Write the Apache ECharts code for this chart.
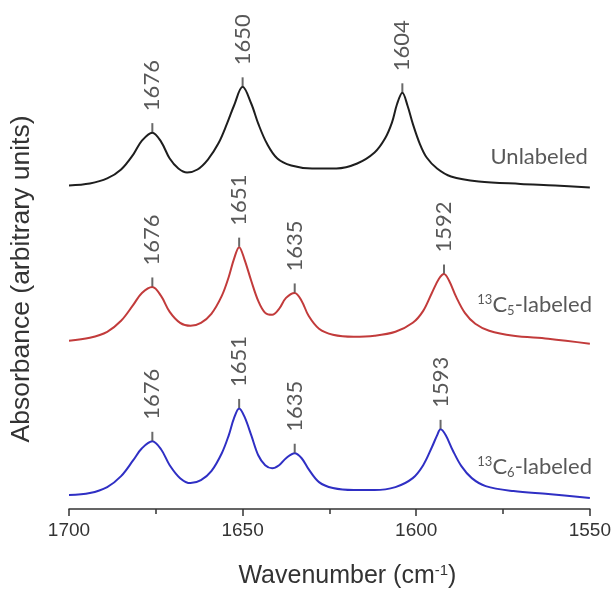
<!DOCTYPE html>
<html><head><meta charset="utf-8">
<script src="https://cdn.jsdelivr.net/npm/echarts@6/dist/echarts.min.js"></script>
<style>html,body{margin:0;padding:0;background:#fff}#c{width:614px;height:594px}</style>
</head><body><div id="c"></div>
<script>
// Absorbance (arbitrary units) relative to each spectrum's own baseline, [wavenumber, value]
const unlabeled = [[1700,0],[1694,0.02],[1689,0.07],[1685,0.16],[1681.5,0.31],[1679,0.45],[1676,0.53],[1673.5,0.44],[1671,0.27],[1668.5,0.17],[1666,0.13],[1663,0.16],[1660,0.26],[1657,0.42],[1654.5,0.62],[1652.5,0.80],[1650,0.99],[1647.5,0.82],[1645.5,0.62],[1643,0.42],[1640,0.27],[1636,0.20],[1630,0.17],[1623,0.17],[1617,0.22],[1612,0.33],[1609,0.47],[1607,0.63],[1605.5,0.82],[1604,0.93],[1602.5,0.80],[1601,0.62],[1599,0.42],[1597,0.28],[1594,0.17],[1590,0.09],[1582,0.04],[1570,0.015],[1560,0],[1550,-0.02]];
const c5labeled = [[1700,0],[1694,0.03],[1689,0.09],[1685,0.20],[1681.5,0.36],[1679,0.48],[1676,0.54],[1673.5,0.45],[1671,0.29],[1668,0.18],[1665,0.15],[1662,0.18],[1659,0.27],[1656,0.45],[1654,0.64],[1652.5,0.82],[1651,0.94],[1649.5,0.82],[1647.5,0.60],[1645.5,0.40],[1643.5,0.28],[1641.5,0.26],[1639.5,0.32],[1637.5,0.43],[1635,0.48],[1633,0.40],[1631,0.25],[1628,0.12],[1624,0.06],[1618,0.04],[1612,0.05],[1606,0.09],[1601,0.18],[1598,0.30],[1595.5,0.48],[1593.5,0.62],[1592,0.67],[1590.5,0.60],[1588.5,0.44],[1586,0.28],[1583,0.17],[1579,0.10],[1572,0.05],[1562,0.02],[1550,-0.03]];
const c6labeled = [[1700,0],[1694,0.02],[1689,0.08],[1685,0.19],[1681.5,0.35],[1679,0.47],[1676,0.54],[1673.5,0.46],[1671,0.30],[1668,0.17],[1665,0.12],[1662,0.15],[1659,0.24],[1656,0.42],[1654,0.60],[1652.5,0.77],[1651,0.87],[1649.5,0.79],[1647.5,0.60],[1645.5,0.40],[1643.5,0.30],[1641.5,0.27],[1639.5,0.30],[1637.5,0.37],[1635,0.42],[1633,0.37],[1631,0.26],[1628,0.13],[1624,0.07],[1618,0.05],[1612,0.05],[1606,0.08],[1601,0.17],[1598,0.30],[1595.5,0.48],[1594,0.60],[1593,0.66],[1591.5,0.60],[1589.5,0.45],[1587,0.29],[1584,0.17],[1580,0.09],[1572,0.04],[1562,0.01],[1550,-0.03]];

// Peak labels (cm-1)
const unlabeledPeaks = [1676, 1650, 1604];
const c5Peaks = [1676, 1651, 1635, 1592];
const c6Peaks = [1676, 1651, 1635, 1593];

// vertical stacking offsets of the three spectra
const offsets = [3.25, 1.69, 0.14];
const names = ['Unlabeled', '{sup|13}C{sub|5}-labeled', '{sup|13}C{sub|6}-labeled'];
const nameRel = [[1564.6, 0.29], [1565.9, 0.36], [1565.9, 0.28]];
const colors = ['#1e1e1e', '#c23b3b', '#2f2fc4'];

const xTicks = [1700, 1650, 1600, 1550];

const spectra = [unlabeled, c5labeled, c6labeled];
const peaks = [unlabeledPeaks, c5Peaks, c6Peaks];

const txt = '#2e2e2e';
const series = [];
spectra.forEach((sp, i) => {
  const off = offsets[i];
  series.push({
    type: 'line',
    data: sp.map(p => [p[0], p[1] + off]),
    showSymbol: false,
    smooth: 0.35,
    lineStyle: { color: colors[i], width: 2 },
    z: 3
  });
  series.push({
    type: 'scatter',
    data: [[nameRel[i][0], nameRel[i][1] + off]],
    symbol: 'circle', symbolSize: 2,
    itemStyle: { color: 'rgba(0,0,0,0)' },
    silent: true, z: 5,
    label: {
      show: true, position: 'inside', color: txt,
      fontFamily: 'Lato', fontSize: 22,
      formatter: names[i],
      rich: {
        sup: { fontFamily: 'Lato', fontSize: 13, verticalAlign: 'top', color: txt, lineHeight: 24 },
        sub: { fontFamily: 'Lato', fontSize: 13, verticalAlign: 'bottom', color: txt, lineHeight: 24 }
      }
    }
  });
  series.push({
    type: 'scatter',
    data: peaks[i].map(w => {
      const pt = sp.find(p => p[0] === w);
      return [w, pt[1] + off];
    }),
    symbol: 'rect',
    symbolSize: [2, 9],
    symbolOffset: [0, -5],
    itemStyle: { color: '#444' },
    z: 4,
    label: {
      show: true, position: 'top', distance: 12, rotate: 90,
      align: 'left', verticalAlign: 'middle',
      fontFamily: 'Lato', fontSize: 22, color: txt,
      formatter: p => String(p.value[0])
    }
  });
});

const chart = echarts.init(document.getElementById('c'), null, { renderer: 'canvas' });
chart.setOption({
  animation: false,
  backgroundColor: '#fff',
  grid: { left: 68, right: 23, top: 49, bottom: 83, containLabel: false },
  xAxis: {
    type: 'value', min: 1550, max: 1700, interval: 50, inverse: true,
    axisLine: { lineStyle: { color: '#333', width: 1.5 } },
    axisTick: { show: true, length: 7, lineStyle: { color: '#333', width: 1.5 } },
    minorTick: { show: true, splitNumber: 2, length: 5, lineStyle: { color: '#333', width: 1.5 } },
    splitLine: { show: false },
    axisLabel: {
      fontFamily: 'Liberation Sans', fontSize: 19, color: '#333', margin: 12,
      formatter: v => xTicks.includes(v) ? String(v) : ''
    },
    name: 'Wavenumber (cm{sup|-1})',
    nameLocation: 'middle', nameGap: 54,
    nameTextStyle: {
      fontFamily: 'Liberation Sans', fontSize: 25, color: '#333', padding: [0, 0, 0, 36],
      rich: { sup: { fontFamily: 'Liberation Sans', fontSize: 15, verticalAlign: 'top', color: '#333', lineHeight: 27 } }
    }
  },
  yAxis: {
    type: 'value', min: 0, max: 4.62,
    axisLine: { show: false }, axisTick: { show: false }, axisLabel: { show: false },
    splitLine: { show: false },
    name: 'Absorbance (arbitrary units)', nameLocation: 'middle', nameGap: 34,
    nameTextStyle: { fontFamily: 'Liberation Sans', fontSize: 26.5, color: '#333' }
  },
  series
});
</script>
</body></html>
